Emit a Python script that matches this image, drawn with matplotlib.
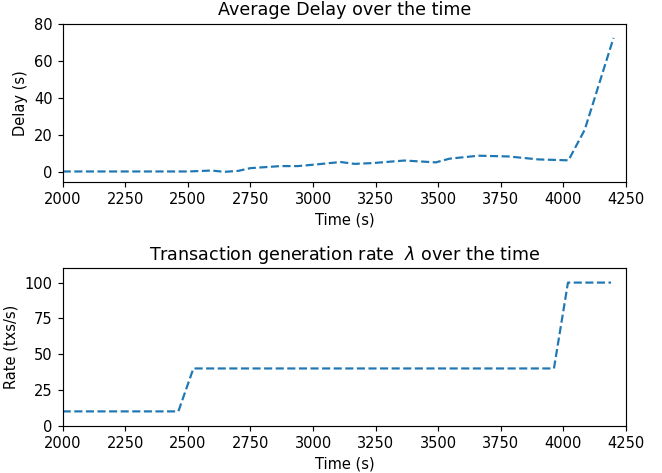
import matplotlib
matplotlib.use("Agg")
import matplotlib.pyplot as plt

# Average delay over the time
delay_time = [2000, 2500, 2595, 2645, 2700, 2750, 2870, 2940, 3005, 3110, 3165,
              3235, 3365, 3490, 3545, 3660, 3780, 3900, 4020, 4085, 4200]
delay_vals = [0.5, 0.5, 1.0, 0.3, 0.8, 2.3, 3.4, 3.4, 4.2, 5.6, 4.6,
              5.0, 6.4, 5.4, 7.4, 9.0, 8.6, 7.0, 6.5, 23.0, 72.5]

# Transaction generation rate over the time
rate_time = [2000, 2462, 2522, 3962, 4018, 4190]
rate_vals = [10, 10, 40, 40, 100, 100]

x_ticks = [2000, 2250, 2500, 2750, 3000, 3250, 3500, 3750, 4000, 4250]

DPI = 105
fig = plt.figure(figsize=(662 / DPI, 473 / DPI), dpi=DPI)
ax1 = fig.add_axes([0.0947, 0.6159, 0.851, 0.3334])
ax2 = fig.add_axes([0.0947, 0.1000, 0.851, 0.3328])

ax1.plot(delay_time, delay_vals, linestyle="--", color="#1f77b4", linewidth=1.5)
ax1.set_xlim(2000, 4250)
ax1.set_ylim(-5, 80)
ax1.set_xticks(x_ticks)
ax1.set_yticks([0, 20, 40, 60, 80])
ax1.set_title("Average Delay over the time", fontsize=12)
ax1.set_xlabel("Time (s)", fontsize=10)
ax1.set_ylabel("Delay (s)", fontsize=10)

ax2.plot(rate_time, rate_vals, linestyle="--", color="#1f77b4", linewidth=1.5)
ax2.set_xlim(2000, 4250)
ax2.set_ylim(0, 110)
ax2.set_xticks(x_ticks)
ax2.set_yticks([0, 25, 50, 75, 100])
ax2.set_title(r"Transaction generation rate  $\lambda$ over the time", fontsize=12)
ax2.set_xlabel("Time (s)", fontsize=10)
ax2.set_ylabel("Rate (txs/s)", fontsize=10)

for ax in (ax1, ax2):
    ax.tick_params(labelsize=10)

fig.savefig("out.png", dpi=DPI)
